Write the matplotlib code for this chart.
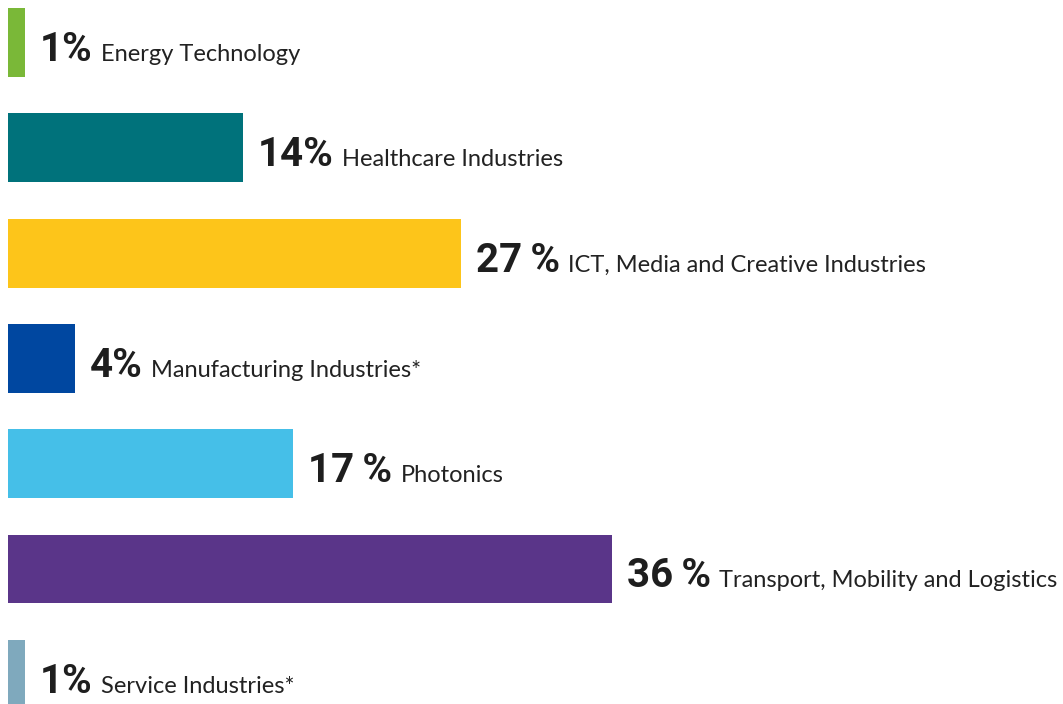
import matplotlib.pyplot as plt

categories = ["Energy Technology", "Healthcare Industries", "ICT, Media and Creative Industries",
              "Manufacturing Industries*", "Photonics", "Transport, Mobility and Logistics",
              "Service Industries*"]
shares = [1, 14, 27, 4, 17, 36, 1]
share_labels = ["1%", "14%", "27\u2009%", "4%", "17\u2009%", "36\u2009%", "1%"]
colors = ["#7ab838", "#00727b", "#fdc51a", "#0047a0", "#45bfe8", "#5a3589", "#7fa9bd"]

fig = plt.figure(figsize=(10.63, 7.04), dpi=100)
ax = fig.add_axes([0, 0, 1, 1])

px_per_pct = 16.78
ax.set_xlim(-8 / px_per_pct, (1063 - 8) / px_per_pct)
row = 105.3
ax.set_ylim((704 - 42.5) / row, -42.5 / row)

pos = list(range(len(categories)))
ax.barh(pos, shares, height=0.655, color=colors)

for i, (v, lab, cat) in enumerate(zip(shares, share_labels, categories)):
    base = i + 0.175
    t = ax.annotate(lab, xy=(v, base), xytext=(15, 0), textcoords="offset pixels",
                    fontsize=29, fontweight="bold", family=["Roboto", "DejaVu Sans"],
                    color="#1e1e1e", va="baseline", ha="left")
    ax.annotate(cat, xy=(1, base), xycoords=(t, "data"), xytext=(8, 0),
                textcoords="offset pixels", fontsize=17, family="Lato",
                color="#222222", va="baseline", ha="left")

ax.axis("off")
fig.savefig("out.png", dpi=100, facecolor="white")
